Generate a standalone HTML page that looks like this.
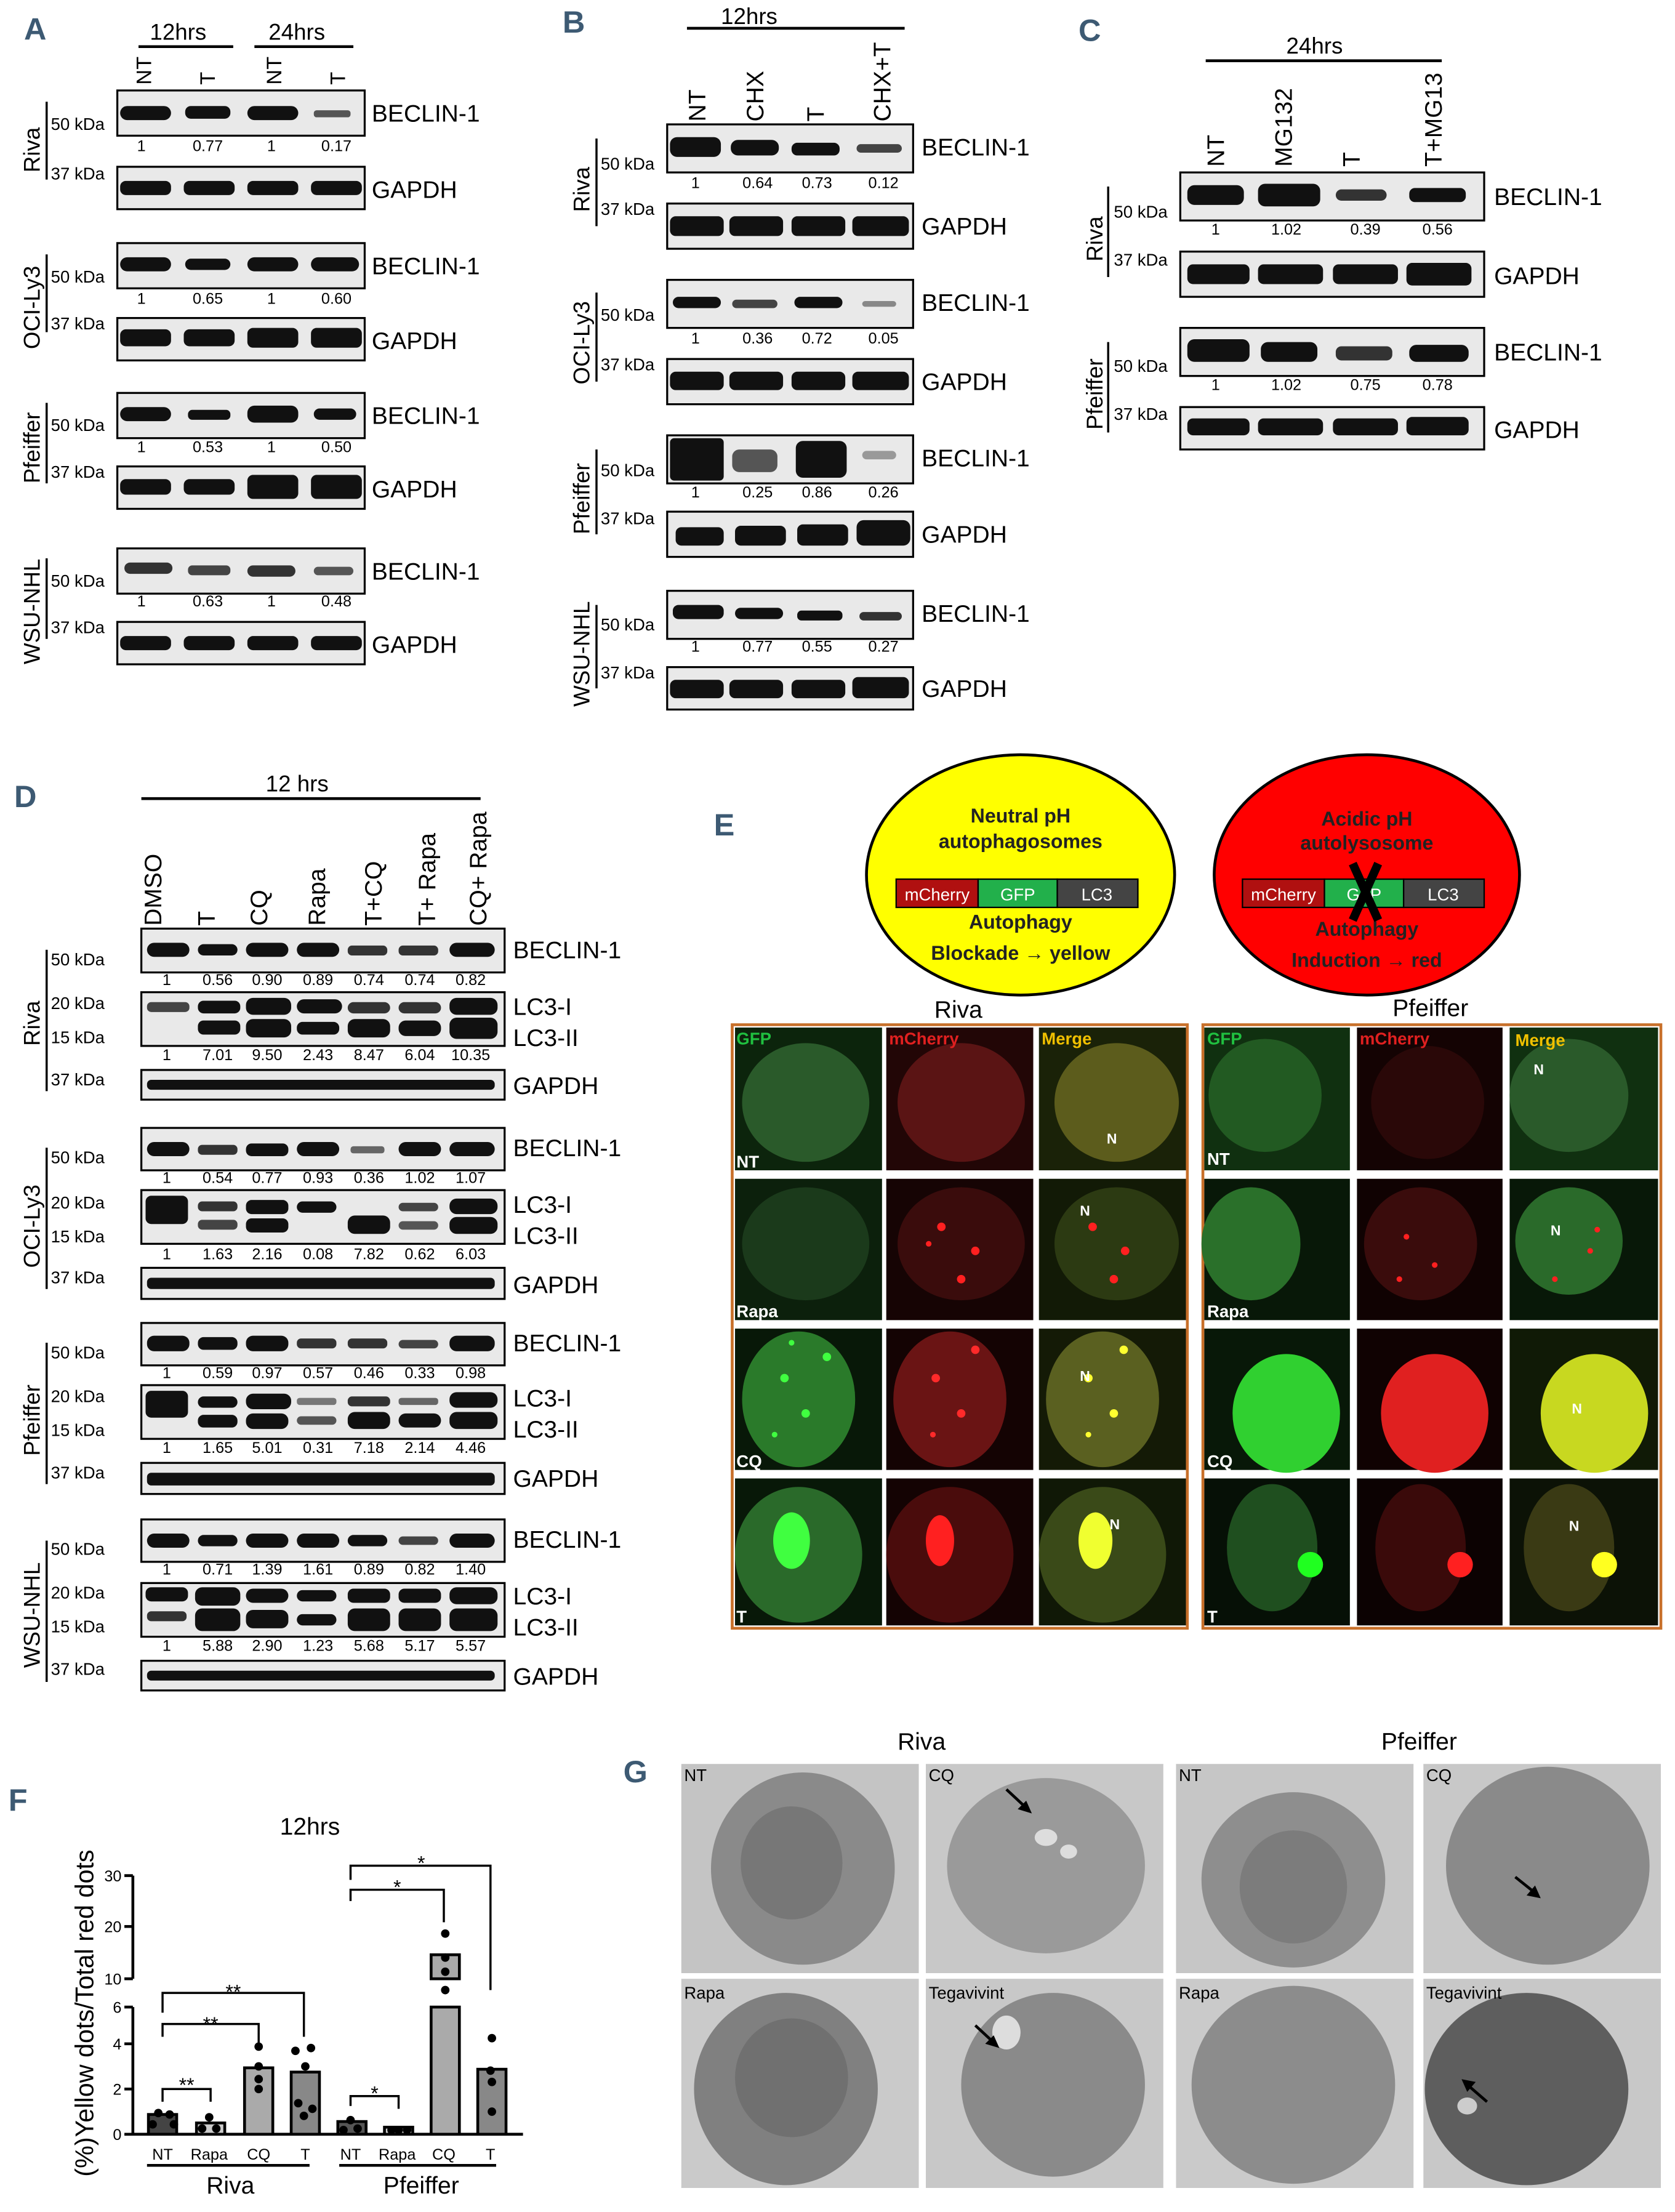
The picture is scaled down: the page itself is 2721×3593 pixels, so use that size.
<!DOCTYPE html>
<html><head><meta charset="utf-8"><style>html,body{margin:0;padding:0;background:#fff}svg{display:block}</style></head><body>
<svg xmlns="http://www.w3.org/2000/svg" width="2721" height="3593" viewBox="0 0 1185 1565" preserveAspectRatio="none" font-family="Liberation Sans, sans-serif">
<rect width="1185" height="1565" fill="#fff"/>
<g font-family="Liberation Sans, sans-serif" font-weight="bold" fill="#3d5a73" font-size="22">
<text x="17" y="28">A</text><text x="398" y="23">B</text><text x="763" y="29">C</text>
<text x="10" y="571">D</text><text x="505" y="591">E</text><text x="6" y="1281">F</text><text x="441" y="1261">G</text>
</g>

<!-- ===== Panel A ===== -->
<g font-size="16"><text x="106" y="28">12hrs</text><text x="190" y="28">24hrs</text></g>
<line x1="98" y1="33" x2="165" y2="33" stroke="#000" stroke-width="2"/><line x1="180" y1="33" x2="250" y2="33" stroke="#000" stroke-width="2"/>
<g font-size="15"><text transform="translate(107,60) rotate(-90)">NT</text><text transform="translate(152,60) rotate(-90)">T</text><text transform="translate(199,60) rotate(-90)">NT</text><text transform="translate(244,60) rotate(-90)">T</text></g>
<g fill="#e9e9e9" stroke="#000" stroke-width="1.4">
<rect x="83" y="64" width="175" height="32"/><rect x="83" y="118" width="175" height="30"/>
<rect x="83" y="172" width="175" height="32"/><rect x="83" y="225" width="175" height="30"/>
<rect x="83" y="278" width="175" height="32"/><rect x="83" y="330" width="175" height="30"/>
<rect x="83" y="388" width="175" height="32"/><rect x="83" y="440" width="175" height="30"/>
</g>
<g fill="#111">
<rect x="85" y="75" width="36" height="10" rx="5"/><rect x="131" y="75" width="32" height="9" rx="4"/><rect x="175" y="75" width="36" height="10" rx="5"/><rect x="222" y="78" width="26" height="5" rx="2" fill="#555"/>
<rect x="85" y="128" width="36" height="10" rx="4"/><rect x="130" y="128" width="36" height="10" rx="4"/><rect x="175" y="128" width="36" height="10" rx="4"/><rect x="220" y="128" width="36" height="10" rx="4"/>
<rect x="85" y="182" width="36" height="10" rx="5"/><rect x="131" y="183" width="32" height="8" rx="4"/><rect x="175" y="182" width="36" height="10" rx="5"/><rect x="220" y="182" width="34" height="10" rx="5"/>
<rect x="85" y="233" width="36" height="12" rx="4"/><rect x="130" y="233" width="36" height="12" rx="4"/><rect x="175" y="232" width="36" height="14" rx="4"/><rect x="220" y="232" width="36" height="14" rx="4"/>
<rect x="85" y="288" width="36" height="10" rx="5"/><rect x="133" y="290" width="30" height="7" rx="3"/><rect x="175" y="287" width="36" height="12" rx="5"/><rect x="222" y="289" width="30" height="8" rx="4"/>
<rect x="85" y="339" width="36" height="11" rx="4"/><rect x="130" y="339" width="36" height="11" rx="4"/><rect x="175" y="336" width="36" height="17" rx="4"/><rect x="220" y="336" width="36" height="17" rx="4"/>
<rect x="88" y="398" width="34" height="8" rx="4" fill="#333"/><rect x="133" y="400" width="30" height="7" rx="3" fill="#444"/><rect x="175" y="400" width="34" height="8" rx="4" fill="#333"/><rect x="222" y="401" width="28" height="6" rx="3" fill="#555"/>
<rect x="85" y="450" width="36" height="10" rx="4"/><rect x="130" y="450" width="36" height="10" rx="4"/><rect x="175" y="450" width="36" height="10" rx="4"/><rect x="220" y="450" width="36" height="10" rx="4"/>
</g>
<g font-size="17"><text x="263" y="86">BECLIN-1</text><text x="263" y="140">GAPDH</text><text x="263" y="194">BECLIN-1</text><text x="263" y="247">GAPDH</text><text x="263" y="300">BECLIN-1</text><text x="263" y="352">GAPDH</text><text x="263" y="410">BECLIN-1</text><text x="263" y="462">GAPDH</text></g>
<g font-size="11" text-anchor="middle"><text x="100" y="107">1</text><text x="147" y="107">0.77</text><text x="192" y="107">1</text><text x="238" y="107">0.17</text>
<text x="100" y="215">1</text><text x="147" y="215">0.65</text><text x="192" y="215">1</text><text x="238" y="215">0.60</text>
<text x="100" y="320">1</text><text x="147" y="320">0.53</text><text x="192" y="320">1</text><text x="238" y="320">0.50</text>
<text x="100" y="429">1</text><text x="147" y="429">0.63</text><text x="192" y="429">1</text><text x="238" y="429">0.48</text></g>
<g font-size="12"><text x="36" y="92">50 kDa</text><text x="36" y="127">37 kDa</text><text x="36" y="200">50 kDa</text><text x="36" y="233">37 kDa</text><text x="36" y="305">50 kDa</text><text x="36" y="338">37 kDa</text><text x="36" y="415">50 kDa</text><text x="36" y="448">37 kDa</text></g>
<g stroke="#000" stroke-width="1.5"><line x1="33" y1="72" x2="33" y2="127"/><line x1="33" y1="180" x2="33" y2="235"/><line x1="33" y1="285" x2="33" y2="342"/><line x1="33" y1="395" x2="33" y2="452"/></g>
<g font-size="16"><text transform="translate(28,122) rotate(-90)">Riva</text><text transform="translate(28,247) rotate(-90)">OCI-Ly3</text><text transform="translate(28,342) rotate(-90)">Pfeiffer</text><text transform="translate(28,470) rotate(-90)">WSU-NHL</text></g>

<!-- ===== Panel B ===== -->
<text x="510" y="17" font-size="16">12hrs</text><line x1="486" y1="20" x2="640" y2="20" stroke="#000" stroke-width="2"/>
<g font-size="17"><text transform="translate(499,86) rotate(-90)">NT</text><text transform="translate(540,86) rotate(-90)">CHX</text><text transform="translate(583,86) rotate(-90)">T</text><text transform="translate(630,86) rotate(-90)">CHX+T</text></g>
<g fill="#e9e9e9" stroke="#000" stroke-width="1.4">
<rect x="472" y="88" width="174" height="34"/><rect x="472" y="144" width="174" height="32"/>
<rect x="472" y="198" width="174" height="34"/><rect x="472" y="254" width="174" height="32"/>
<rect x="472" y="308" width="174" height="34"/><rect x="472" y="362" width="174" height="32"/>
<rect x="472" y="418" width="174" height="34"/><rect x="472" y="472" width="174" height="30"/>
</g>
<g fill="#111">
<rect x="474" y="97" width="36" height="14" rx="5"/><rect x="517" y="99" width="34" height="11" rx="5"/><rect x="560" y="101" width="34" height="9" rx="4"/><rect x="606" y="102" width="32" height="6" rx="3" fill="#444"/>
<rect x="474" y="153" width="38" height="14" rx="4"/><rect x="516" y="153" width="38" height="14" rx="4"/><rect x="560" y="153" width="38" height="14" rx="4"/><rect x="603" y="153" width="40" height="14" rx="4"/>
<rect x="476" y="210" width="34" height="8" rx="4"/><rect x="518" y="212" width="32" height="6" rx="3" fill="#444"/><rect x="562" y="210" width="34" height="8" rx="4"/><rect x="610" y="213" width="24" height="4" rx="2" fill="#888"/>
<rect x="474" y="263" width="38" height="13" rx="4"/><rect x="516" y="263" width="38" height="13" rx="4"/><rect x="560" y="263" width="38" height="13" rx="4"/><rect x="603" y="263" width="40" height="13" rx="4"/>
<rect x="474" y="310" width="38" height="30" rx="3"/><rect x="518" y="318" width="32" height="16" rx="5" fill="#555"/><rect x="563" y="312" width="36" height="26" rx="5"/><rect x="610" y="319" width="24" height="6" rx="3" fill="#999"/>
<rect x="478" y="373" width="34" height="13" rx="4"/><rect x="520" y="372" width="36" height="14" rx="4"/><rect x="564" y="371" width="36" height="15" rx="4"/><rect x="606" y="368" width="38" height="18" rx="5"/>
<rect x="476" y="428" width="36" height="10" rx="4"/><rect x="520" y="430" width="34" height="8" rx="4"/><rect x="564" y="432" width="32" height="7" rx="3"/><rect x="608" y="433" width="30" height="6" rx="3" fill="#333"/>
<rect x="474" y="481" width="38" height="13" rx="4"/><rect x="516" y="481" width="38" height="13" rx="4"/><rect x="560" y="481" width="38" height="13" rx="4"/><rect x="603" y="479" width="40" height="15" rx="4"/>
</g>
<g font-size="17"><text x="652" y="110">BECLIN-1</text><text x="652" y="166">GAPDH</text><text x="652" y="220">BECLIN-1</text><text x="652" y="276">GAPDH</text><text x="652" y="330">BECLIN-1</text><text x="652" y="384">GAPDH</text><text x="652" y="440">BECLIN-1</text><text x="652" y="493">GAPDH</text></g>
<g font-size="11" text-anchor="middle"><text x="492" y="133">1</text><text x="536" y="133">0.64</text><text x="578" y="133">0.73</text><text x="625" y="133">0.12</text>
<text x="492" y="243">1</text><text x="536" y="243">0.36</text><text x="578" y="243">0.72</text><text x="625" y="243">0.05</text>
<text x="492" y="352">1</text><text x="536" y="352">0.25</text><text x="578" y="352">0.86</text><text x="625" y="352">0.26</text>
<text x="492" y="461">1</text><text x="536" y="461">0.77</text><text x="578" y="461">0.55</text><text x="625" y="461">0.27</text></g>
<g font-size="12"><text x="425" y="120">50 kDa</text><text x="425" y="152">37 kDa</text><text x="425" y="227">50 kDa</text><text x="425" y="262">37 kDa</text><text x="425" y="337">50 kDa</text><text x="425" y="371">37 kDa</text><text x="425" y="446">50 kDa</text><text x="425" y="480">37 kDa</text></g>
<g stroke="#000" stroke-width="1.5"><line x1="422" y1="98" x2="422" y2="160"/><line x1="422" y1="207" x2="422" y2="270"/><line x1="422" y1="318" x2="422" y2="378"/><line x1="422" y1="428" x2="422" y2="487"/></g>
<g font-size="16"><text transform="translate(417,150) rotate(-90)">Riva</text><text transform="translate(417,272) rotate(-90)">OCI-Ly3</text><text transform="translate(417,378) rotate(-90)">Pfeiffer</text><text transform="translate(417,500) rotate(-90)">WSU-NHL</text></g>

<!-- ===== Panel C ===== -->
<text x="910" y="38" font-size="16">24hrs</text><line x1="853" y1="43" x2="1020" y2="43" stroke="#000" stroke-width="2"/>
<g font-size="17"><text transform="translate(866,118) rotate(-90)">NT</text><text transform="translate(914,118) rotate(-90)">MG132</text><text transform="translate(962,118) rotate(-90)">T</text><text transform="translate(1020,118) rotate(-90)">T+MG13</text></g>
<g fill="#e9e9e9" stroke="#000" stroke-width="1.4">
<rect x="835" y="122" width="215" height="34"/><rect x="835" y="178" width="215" height="32"/>
<rect x="835" y="232" width="215" height="34"/><rect x="835" y="288" width="215" height="30"/>
</g>
<g fill="#111">
<rect x="840" y="131" width="40" height="14" rx="5"/><rect x="890" y="130" width="44" height="16" rx="5"/><rect x="945" y="134" width="36" height="8" rx="4" fill="#333"/><rect x="997" y="133" width="40" height="10" rx="4"/>
<rect x="840" y="187" width="44" height="14" rx="4"/><rect x="890" y="187" width="46" height="14" rx="4"/><rect x="943" y="187" width="46" height="14" rx="4"/><rect x="995" y="186" width="46" height="16" rx="4"/>
<rect x="840" y="240" width="44" height="16" rx="5"/><rect x="892" y="242" width="40" height="14" rx="5"/><rect x="945" y="245" width="40" height="10" rx="4" fill="#333"/><rect x="997" y="244" width="42" height="12" rx="5"/>
<rect x="840" y="296" width="44" height="12" rx="4"/><rect x="890" y="296" width="46" height="12" rx="4"/><rect x="943" y="296" width="46" height="12" rx="4"/><rect x="995" y="295" width="44" height="13" rx="4"/>
</g>
<g font-size="17"><text x="1057" y="145">BECLIN-1</text><text x="1057" y="201">GAPDH</text><text x="1057" y="255">BECLIN-1</text><text x="1057" y="310">GAPDH</text></g>
<g font-size="11" text-anchor="middle"><text x="860" y="166">1</text><text x="910" y="166">1.02</text><text x="966" y="166">0.39</text><text x="1017" y="166">0.56</text>
<text x="860" y="276">1</text><text x="910" y="276">1.02</text><text x="966" y="276">0.75</text><text x="1017" y="276">0.78</text></g>
<g font-size="12"><text x="788" y="154">50 kDa</text><text x="788" y="188">37 kDa</text><text x="788" y="263">50 kDa</text><text x="788" y="297">37 kDa</text></g>
<g stroke="#000" stroke-width="1.5"><line x1="784" y1="132" x2="784" y2="196"/><line x1="784" y1="242" x2="784" y2="306"/></g>
<g font-size="16"><text transform="translate(780,185) rotate(-90)">Riva</text><text transform="translate(780,304) rotate(-90)">Pfeiffer</text></g>

<!-- ===== Panel D ===== -->
<text x="188" y="560" font-size="16">12 hrs</text><line x1="100" y1="565" x2="340" y2="565" stroke="#000" stroke-width="2"/>
<g font-size="17"><text transform="translate(114,655) rotate(-90)">DMSO</text><text transform="translate(152,655) rotate(-90)">T</text><text transform="translate(189,655) rotate(-90)">CQ</text><text transform="translate(230,655) rotate(-90)">Rapa</text><text transform="translate(270,655) rotate(-90)">T+CQ</text><text transform="translate(308,655) rotate(-90)">T+ Rapa</text><text transform="translate(344,655) rotate(-90)">CQ+ Rapa</text></g>
<g fill="#e9e9e9" stroke="#000" stroke-width="1.4">
<rect x="100" y="657" width="257" height="31"/><rect x="100" y="702" width="257" height="38"/><rect x="100" y="757" width="257" height="21"/>
<rect x="100" y="798" width="257" height="30"/><rect x="100" y="842" width="257" height="38"/><rect x="100" y="897" width="257" height="22"/>
<rect x="100" y="936" width="257" height="30"/><rect x="100" y="980" width="257" height="38"/><rect x="100" y="1035" width="257" height="22"/>
<rect x="100" y="1075" width="257" height="30"/><rect x="100" y="1120" width="257" height="38"/><rect x="100" y="1175" width="257" height="21"/>
</g>
<g fill="#111">
<rect x="104" y="667" width="30" height="10" rx="5"/><rect x="140" y="668" width="28" height="8" rx="4"/><rect x="174" y="667" width="30" height="10" rx="5"/><rect x="210" y="667" width="30" height="10" rx="5"/><rect x="246" y="669" width="28" height="7" rx="3" fill="#333"/><rect x="282" y="669" width="28" height="7" rx="3" fill="#333"/><rect x="318" y="667" width="32" height="10" rx="5"/>
<rect x="104" y="709" width="30" height="7" rx="3" fill="#444"/><rect x="140" y="708" width="30" height="9" rx="4"/><rect x="174" y="706" width="32" height="12" rx="5"/><rect x="210" y="707" width="32" height="10" rx="5"/><rect x="246" y="709" width="30" height="8" rx="4" fill="#333"/><rect x="282" y="709" width="30" height="8" rx="4" fill="#333"/><rect x="318" y="706" width="34" height="12" rx="5"/>
<rect x="140" y="722" width="30" height="10" rx="4"/><rect x="174" y="721" width="32" height="13" rx="5"/><rect x="210" y="723" width="30" height="9" rx="4"/><rect x="246" y="721" width="30" height="13" rx="5"/><rect x="282" y="722" width="30" height="11" rx="5"/><rect x="318" y="720" width="34" height="15" rx="5"/>
<rect x="104" y="764" width="246" height="7" rx="3"/>
<rect x="104" y="808" width="30" height="10" rx="5"/><rect x="140" y="810" width="28" height="7" rx="3" fill="#333"/><rect x="174" y="809" width="30" height="9" rx="4"/><rect x="210" y="808" width="30" height="10" rx="5"/><rect x="248" y="811" width="24" height="5" rx="2" fill="#666"/><rect x="282" y="808" width="30" height="10" rx="5"/><rect x="318" y="808" width="32" height="10" rx="5"/>
<rect x="103" y="846" width="30" height="20" rx="4"/><rect x="140" y="850" width="28" height="7" rx="3" fill="#333"/><rect x="174" y="849" width="30" height="10" rx="4"/><rect x="210" y="850" width="28" height="8" rx="4"/><rect x="282" y="851" width="28" height="6" rx="3" fill="#444"/><rect x="318" y="848" width="34" height="11" rx="5"/>
<rect x="140" y="863" width="28" height="7" rx="3" fill="#444"/><rect x="174" y="862" width="30" height="10" rx="4"/><rect x="246" y="860" width="30" height="13" rx="5"/><rect x="282" y="864" width="28" height="6" rx="3" fill="#555"/><rect x="318" y="861" width="34" height="12" rx="5"/>
<rect x="104" y="904" width="246" height="8" rx="3"/>
<rect x="104" y="945" width="30" height="11" rx="5"/><rect x="140" y="946" width="28" height="9" rx="4"/><rect x="174" y="945" width="30" height="11" rx="5"/><rect x="210" y="947" width="28" height="7" rx="3" fill="#333"/><rect x="246" y="947" width="28" height="7" rx="3" fill="#333"/><rect x="282" y="948" width="28" height="6" rx="3" fill="#444"/><rect x="318" y="945" width="32" height="11" rx="5"/>
<rect x="103" y="984" width="30" height="19" rx="4"/><rect x="140" y="988" width="28" height="8" rx="4"/><rect x="174" y="986" width="32" height="11" rx="5"/><rect x="210" y="989" width="28" height="5" rx="2" fill="#777"/><rect x="246" y="988" width="30" height="7" rx="3" fill="#333"/><rect x="282" y="989" width="28" height="5" rx="2" fill="#666"/><rect x="318" y="985" width="34" height="11" rx="5"/>
<rect x="140" y="1001" width="28" height="9" rx="4"/><rect x="174" y="1000" width="30" height="11" rx="5"/><rect x="210" y="1002" width="28" height="6" rx="3" fill="#555"/><rect x="246" y="999" width="30" height="12" rx="5"/><rect x="282" y="1000" width="30" height="10" rx="5"/><rect x="318" y="999" width="34" height="12" rx="5"/>
<rect x="104" y="1042" width="246" height="9" rx="3"/>
<rect x="104" y="1085" width="30" height="10" rx="5"/><rect x="140" y="1086" width="28" height="8" rx="4"/><rect x="174" y="1085" width="30" height="10" rx="5"/><rect x="210" y="1085" width="30" height="10" rx="5"/><rect x="246" y="1086" width="28" height="8" rx="4"/><rect x="282" y="1087" width="28" height="6" rx="3" fill="#444"/><rect x="318" y="1085" width="32" height="10" rx="5"/>
<rect x="103" y="1123" width="30" height="10" rx="4"/><rect x="138" y="1123" width="32" height="13" rx="5"/><rect x="174" y="1124" width="30" height="10" rx="5"/><rect x="210" y="1125" width="28" height="8" rx="4"/><rect x="246" y="1124" width="30" height="10" rx="4"/><rect x="282" y="1124" width="30" height="10" rx="4"/><rect x="318" y="1123" width="34" height="12" rx="5"/>
<rect x="104" y="1140" width="28" height="7" rx="3" fill="#333"/><rect x="138" y="1138" width="32" height="16" rx="5"/><rect x="174" y="1139" width="30" height="13" rx="5"/><rect x="210" y="1142" width="28" height="8" rx="4"/><rect x="246" y="1138" width="30" height="16" rx="5"/><rect x="282" y="1138" width="30" height="16" rx="5"/><rect x="318" y="1138" width="34" height="16" rx="5"/>
<rect x="104" y="1182" width="246" height="7" rx="3"/>
</g>
<g font-size="17"><text x="363" y="678">BECLIN-1</text><text x="363" y="718">LC3-I</text><text x="363" y="740">LC3-II</text><text x="363" y="774">GAPDH</text>
<text x="363" y="818">BECLIN-1</text><text x="363" y="858">LC3-I</text><text x="363" y="880">LC3-II</text><text x="363" y="915">GAPDH</text>
<text x="363" y="956">BECLIN-1</text><text x="363" y="995">LC3-I</text><text x="363" y="1017">LC3-II</text><text x="363" y="1052">GAPDH</text>
<text x="363" y="1095">BECLIN-1</text><text x="363" y="1135">LC3-I</text><text x="363" y="1157">LC3-II</text><text x="363" y="1192">GAPDH</text></g>
<g font-size="11" text-anchor="middle">
<text x="118" y="697">1</text><text x="154" y="697">0.56</text><text x="189" y="697">0.90</text><text x="225" y="697">0.89</text><text x="261" y="697">0.74</text><text x="297" y="697">0.74</text><text x="333" y="697">0.82</text>
<text x="118" y="750">1</text><text x="154" y="750">7.01</text><text x="189" y="750">9.50</text><text x="225" y="750">2.43</text><text x="261" y="750">8.47</text><text x="297" y="750">6.04</text><text x="333" y="750">10.35</text>
<text x="118" y="837">1</text><text x="154" y="837">0.54</text><text x="189" y="837">0.77</text><text x="225" y="837">0.93</text><text x="261" y="837">0.36</text><text x="297" y="837">1.02</text><text x="333" y="837">1.07</text>
<text x="118" y="891">1</text><text x="154" y="891">1.63</text><text x="189" y="891">2.16</text><text x="225" y="891">0.08</text><text x="261" y="891">7.82</text><text x="297" y="891">0.62</text><text x="333" y="891">6.03</text>
<text x="118" y="975">1</text><text x="154" y="975">0.59</text><text x="189" y="975">0.97</text><text x="225" y="975">0.57</text><text x="261" y="975">0.46</text><text x="297" y="975">0.33</text><text x="333" y="975">0.98</text>
<text x="118" y="1028">1</text><text x="154" y="1028">1.65</text><text x="189" y="1028">5.01</text><text x="225" y="1028">0.31</text><text x="261" y="1028">7.18</text><text x="297" y="1028">2.14</text><text x="333" y="1028">4.46</text>
<text x="118" y="1114">1</text><text x="154" y="1114">0.71</text><text x="189" y="1114">1.39</text><text x="225" y="1114">1.61</text><text x="261" y="1114">0.89</text><text x="297" y="1114">0.82</text><text x="333" y="1114">1.40</text>
<text x="118" y="1168">1</text><text x="154" y="1168">5.88</text><text x="189" y="1168">2.90</text><text x="225" y="1168">1.23</text><text x="261" y="1168">5.68</text><text x="297" y="1168">5.17</text><text x="333" y="1168">5.57</text>
</g>
<g font-size="12"><text x="36" y="683">50 kDa</text><text x="36" y="714">20 kDa</text><text x="36" y="738">15 kDa</text><text x="36" y="768">37 kDa</text>
<text x="36" y="823">50 kDa</text><text x="36" y="855">20 kDa</text><text x="36" y="879">15 kDa</text><text x="36" y="908">37 kDa</text>
<text x="36" y="961">50 kDa</text><text x="36" y="992">20 kDa</text><text x="36" y="1016">15 kDa</text><text x="36" y="1046">37 kDa</text>
<text x="36" y="1100">50 kDa</text><text x="36" y="1131">20 kDa</text><text x="36" y="1155">15 kDa</text><text x="36" y="1185">37 kDa</text></g>
<g stroke="#000" stroke-width="1.5"><line x1="33" y1="672" x2="33" y2="772"/><line x1="33" y1="812" x2="33" y2="912"/><line x1="33" y1="950" x2="33" y2="1050"/><line x1="33" y1="1090" x2="33" y2="1190"/></g>
<g font-size="16"><text transform="translate(28,740) rotate(-90)">Riva</text><text transform="translate(28,897) rotate(-90)">OCI-Ly3</text><text transform="translate(28,1030) rotate(-90)">Pfeiffer</text><text transform="translate(28,1180) rotate(-90)">WSU-NHL</text></g>

<!-- ===== Panel E ===== -->
<ellipse cx="722" cy="619" rx="109" ry="85" fill="#ffff00" stroke="#000" stroke-width="2"/>
<ellipse cx="967" cy="619" rx="108" ry="85" fill="#ff0000" stroke="#000" stroke-width="2"/>
<g font-family="Liberation Sans, sans-serif" font-weight="bold" font-size="14" text-anchor="middle" fill="#222">
<text x="722" y="582">Neutral pH</text><text x="722" y="600">autophagosomes</text><text x="722" y="657">Autophagy</text><text x="722" y="679">Blockade → yellow</text>
<text x="967" y="584">Acidic pH</text><text x="967" y="601">autolysosome</text><text x="967" y="662">Autophagy</text><text x="967" y="684">Induction → red</text></g>
<g stroke="#000" stroke-width="1"><rect x="634" y="622" width="58" height="20" fill="#b01010"/><rect x="692" y="622" width="56" height="20" fill="#22b04b"/><rect x="748" y="622" width="57" height="20" fill="#444"/>
<rect x="879" y="622" width="58" height="20" fill="#b01010"/><rect x="937" y="622" width="56" height="20" fill="#22b04b"/><rect x="993" y="622" width="57" height="20" fill="#444"/></g>
<g font-size="12" fill="#fff" text-anchor="middle"><text x="663" y="637">mCherry</text><text x="720" y="637">GFP</text><text x="776" y="637">LC3</text><text x="908" y="637">mCherry</text><text x="965" y="637">GFP</text><text x="1021" y="637">LC3</text></g>
<g stroke="#000" stroke-width="6"><line x1="957" y1="611" x2="975" y2="651"/><line x1="975" y1="611" x2="957" y2="651"/></g>
<g font-size="17" text-anchor="middle"><text x="678" y="720">Riva</text><text x="1012" y="719">Pfeiffer</text></g>
<rect x="518" y="725" width="322" height="427" fill="#fff" stroke="#c8702a" stroke-width="2"/>
<rect x="851" y="725" width="324" height="427" fill="#fff" stroke="#c8702a" stroke-width="2"/>
<g>
<rect x="520" y="727" width="104" height="101" fill="#0c240c"/><ellipse cx="570" cy="780" rx="45" ry="42" fill="#2a5a2a"/>
<rect x="627" y="727" width="104" height="101" fill="#220606"/><ellipse cx="680" cy="780" rx="45" ry="42" fill="#5a1414"/>
<rect x="735" y="727" width="104" height="101" fill="#1a2208"/><ellipse cx="790" cy="780" rx="44" ry="42" fill="#5c5c1c"/>
<rect x="520" y="834" width="104" height="100" fill="#0c200c"/><ellipse cx="570" cy="880" rx="45" ry="40" fill="#1b3a1b"/>
<rect x="627" y="834" width="104" height="100" fill="#160404"/><ellipse cx="680" cy="880" rx="45" ry="40" fill="#3a0c0c"/><g fill="#ff2020"><circle cx="666" cy="868" r="3"/><circle cx="690" cy="885" r="3"/><circle cx="680" cy="905" r="3"/><circle cx="657" cy="880" r="2"/></g>
<rect x="735" y="834" width="104" height="100" fill="#121a06"/><ellipse cx="790" cy="880" rx="44" ry="40" fill="#2c3a12"/><g fill="#ff2020"><circle cx="773" cy="868" r="3"/><circle cx="796" cy="885" r="3"/><circle cx="788" cy="905" r="3"/></g>
<rect x="520" y="940" width="104" height="100" fill="#081808"/><ellipse cx="565" cy="990" rx="40" ry="48" fill="#2a7a2a"/><g fill="#40ff40"><circle cx="555" cy="975" r="3"/><circle cx="570" cy="1000" r="3"/><circle cx="548" cy="1015" r="2"/><circle cx="585" cy="960" r="3"/><circle cx="560" cy="950" r="2"/></g>
<rect x="627" y="940" width="104" height="100" fill="#140303"/><ellipse cx="672" cy="990" rx="40" ry="48" fill="#6a1414"/><g fill="#ff2a2a"><circle cx="662" cy="975" r="3"/><circle cx="680" cy="1000" r="3"/><circle cx="690" cy="955" r="3"/><circle cx="660" cy="1015" r="2"/></g>
<rect x="735" y="940" width="104" height="100" fill="#141a06"/><ellipse cx="780" cy="990" rx="40" ry="48" fill="#5a6020"/><g fill="#ffff30"><circle cx="770" cy="975" r="3"/><circle cx="788" cy="1000" r="3"/><circle cx="795" cy="955" r="3"/><circle cx="770" cy="1015" r="2"/></g>
<rect x="520" y="1046" width="104" height="104" fill="#081808"/><ellipse cx="565" cy="1100" rx="45" ry="48" fill="#2a6a2a"/><ellipse cx="560" cy="1090" rx="13" ry="20" fill="#40ff40"/>
<rect x="627" y="1046" width="104" height="104" fill="#140303"/><ellipse cx="672" cy="1100" rx="45" ry="48" fill="#4a0c0c"/><ellipse cx="665" cy="1090" rx="10" ry="18" fill="#ff2020"/>
<rect x="735" y="1046" width="104" height="104" fill="#101806"/><ellipse cx="780" cy="1100" rx="45" ry="48" fill="#3a4a18"/><ellipse cx="775" cy="1090" rx="12" ry="20" fill="#f0ff30"/>
</g>
<g>
<rect x="852" y="727" width="103" height="101" fill="#103010"/><ellipse cx="895" cy="775" rx="40" ry="40" fill="#225a22"/>
<rect x="960" y="727" width="103" height="101" fill="#140303"/><ellipse cx="1010" cy="780" rx="40" ry="40" fill="#2a0808"/>
<rect x="1068" y="727" width="105" height="101" fill="#103010"/><ellipse cx="1110" cy="775" rx="42" ry="40" fill="#2a5a2a"/>
<rect x="852" y="834" width="103" height="100" fill="#081808"/><ellipse cx="885" cy="880" rx="35" ry="40" fill="#2a702a"/>
<rect x="960" y="834" width="103" height="100" fill="#100202"/><ellipse cx="1005" cy="880" rx="40" ry="40" fill="#3a0c0c"/><g fill="#ff2020"><circle cx="995" cy="875" r="2"/><circle cx="1015" cy="895" r="2"/><circle cx="990" cy="905" r="2"/></g>
<rect x="1068" y="834" width="105" height="100" fill="#081808"/><ellipse cx="1110" cy="878" rx="38" ry="38" fill="#2a6a2a"/><g fill="#ff2020"><circle cx="1125" cy="885" r="2"/><circle cx="1100" cy="905" r="2"/><circle cx="1130" cy="870" r="2"/></g>
<rect x="852" y="940" width="103" height="100" fill="#081808"/><ellipse cx="910" cy="1000" rx="38" ry="42" fill="#30d030"/>
<rect x="960" y="940" width="103" height="100" fill="#100202"/><ellipse cx="1015" cy="1000" rx="38" ry="42" fill="#e02020"/>
<rect x="1068" y="940" width="105" height="100" fill="#101a06"/><ellipse cx="1128" cy="1000" rx="38" ry="42" fill="#c8d820"/>
<rect x="852" y="1046" width="103" height="104" fill="#061006"/><ellipse cx="900" cy="1095" rx="32" ry="45" fill="#1f4f1f"/><ellipse cx="927" cy="1107" rx="9" ry="9" fill="#20ff20"/>
<rect x="960" y="1046" width="103" height="104" fill="#0c0202"/><ellipse cx="1005" cy="1095" rx="32" ry="45" fill="#3a0a0a"/><ellipse cx="1033" cy="1107" rx="9" ry="9" fill="#ff2020"/>
<rect x="1068" y="1046" width="105" height="104" fill="#0c1206"/><ellipse cx="1110" cy="1095" rx="32" ry="45" fill="#3a3a14"/><ellipse cx="1135" cy="1107" rx="9" ry="9" fill="#ffff20"/>
</g>
<g font-family="Liberation Sans, sans-serif" font-weight="bold" font-size="12">
<text x="521" y="739" fill="#20c040">GFP</text><text x="629" y="739" fill="#e02020">mCherry</text><text x="737" y="739" fill="#f0c000">Merge</text>
<text x="854" y="739" fill="#20c040">GFP</text><text x="962" y="739" fill="#e02020">mCherry</text><text x="1072" y="740" fill="#f0c000">Merge</text>
<g fill="#fff"><text x="521" y="826">NT</text><text x="521" y="932">Rapa</text><text x="521" y="1038">CQ</text><text x="521" y="1148">T</text>
<text x="854" y="824">NT</text><text x="854" y="932">Rapa</text><text x="854" y="1038">CQ</text><text x="854" y="1148">T</text>
<g font-size="10"><text x="783" y="809">N</text><text x="764" y="860">N</text><text x="764" y="977">N</text><text x="785" y="1082">N</text><text x="1085" y="760">N</text><text x="1097" y="874">N</text><text x="1112" y="1000">N</text><text x="1110" y="1083">N</text></g></g>
</g>

<!-- ===== Panel F ===== -->
<text x="198" y="1298" font-size="17">12hrs</text>
<text transform="translate(66,1540) rotate(-90)" font-size="18">(%)Yellow dots/Total red dots</text>
<g stroke="#000" stroke-width="2" fill="none">
<polyline points="94,1327 94,1400"/><polyline points="94,1420 94,1510 370,1510"/>
<line x1="88" y1="1327" x2="94" y2="1327"/><line x1="88" y1="1363" x2="94" y2="1363"/><line x1="88" y1="1400" x2="94" y2="1400"/>
<line x1="88" y1="1420" x2="94" y2="1420"/><line x1="88" y1="1446" x2="94" y2="1446"/><line x1="88" y1="1478" x2="94" y2="1478"/><line x1="88" y1="1510" x2="94" y2="1510"/>
<line x1="104" y1="1532" x2="219" y2="1532"/><line x1="240" y1="1532" x2="351" y2="1532"/>
</g>
<g font-size="11" text-anchor="end"><text x="86" y="1331">30</text><text x="86" y="1367">20</text><text x="86" y="1404">10</text><text x="86" y="1424">6</text><text x="86" y="1450">4</text><text x="86" y="1482">2</text><text x="86" y="1514">0</text></g>
<g stroke="#000" stroke-width="2">
<rect x="105" y="1496" width="20" height="14" fill="#444"/><rect x="139" y="1502" width="20" height="8" fill="#ccc"/><rect x="173" y="1463" width="20" height="47" fill="#aaa"/><rect x="206" y="1466" width="20" height="44" fill="#888"/>
<rect x="239" y="1501" width="20" height="9" fill="#555"/><rect x="272" y="1505" width="20" height="5" fill="#ccc"/><rect x="305" y="1420" width="20" height="90" fill="#aaa"/><rect x="305" y="1383" width="20" height="17" fill="#aaa"/><rect x="338" y="1464" width="20" height="46" fill="#888"/>
</g>
<g fill="#000"><circle cx="112" cy="1495" r="3"/><circle cx="120" cy="1496" r="3"/><circle cx="108" cy="1503" r="3"/><circle cx="123" cy="1503" r="3"/>
<circle cx="148" cy="1498" r="3"/><circle cx="143" cy="1506" r="3"/><circle cx="153" cy="1506" r="3"/>
<circle cx="183" cy="1448" r="3"/><circle cx="183" cy="1462" r="3"/><circle cx="183" cy="1471" r="3"/><circle cx="183" cy="1478" r="3"/>
<circle cx="209" cy="1451" r="3"/><circle cx="220" cy="1449" r="3"/><circle cx="216" cy="1462" r="3"/><circle cx="211" cy="1488" r="3"/><circle cx="221" cy="1492" r="3"/><circle cx="215" cy="1497" r="3"/>
<circle cx="248" cy="1500" r="3"/><circle cx="243" cy="1507" r="3"/><circle cx="253" cy="1506" r="3"/>
<circle cx="282" cy="1507" r="3"/><circle cx="277" cy="1507" r="3"/><circle cx="288" cy="1507" r="3"/>
<circle cx="315" cy="1368" r="3"/><circle cx="315" cy="1385" r="3"/><circle cx="315" cy="1395" r="3"/><circle cx="315" cy="1408" r="3"/>
<circle cx="348" cy="1442" r="3"/><circle cx="347" cy="1465" r="3"/><circle cx="348" cy="1473" r="3"/><circle cx="348" cy="1494" r="3"/></g>
<g stroke="#000" stroke-width="1.5" fill="none">
<polyline points="115,1487 115,1478 149,1478 149,1487"/><polyline points="115,1441 115,1432 183,1432 183,1448"/><polyline points="115,1424 115,1410 215,1410 215,1441"/>
<polyline points="248,1490 248,1483 282,1483 282,1492"/><polyline points="248,1345 248,1337 314,1337 314,1360"/><polyline points="248,1330 248,1320 347,1320 347,1408"/>
</g>
<g font-size="14" text-anchor="middle"><text x="132" y="1480">**</text><text x="149" y="1437">**</text><text x="165" y="1414">**</text><text x="265" y="1486">*</text><text x="281" y="1340">*</text><text x="298" y="1323">*</text></g>
<g font-size="11" text-anchor="middle"><text x="115" y="1528">NT</text><text x="148" y="1528">Rapa</text><text x="183" y="1528">CQ</text><text x="216" y="1528">T</text><text x="248" y="1528">NT</text><text x="281" y="1528">Rapa</text><text x="314" y="1528">CQ</text><text x="347" y="1528">T</text></g>
<g font-size="17" text-anchor="middle"><text x="163" y="1552">Riva</text><text x="298" y="1552">Pfeiffer</text></g>

<!-- ===== Panel G ===== -->
<g font-size="17" text-anchor="middle"><text x="652" y="1238">Riva</text><text x="1004" y="1238">Pfeiffer</text></g>
<g>
<rect x="482" y="1248" width="168" height="148" fill="#c4c4c4"/><ellipse cx="568" cy="1322" rx="65" ry="68" fill="#8a8a8a"/><ellipse cx="560" cy="1318" rx="36" ry="40" fill="#777"/>
<rect x="655" y="1248" width="168" height="148" fill="#c8c8c8"/><ellipse cx="740" cy="1320" rx="70" ry="62" fill="#9a9a9a"/><ellipse cx="740" cy="1300" rx="8" ry="6" fill="#ddd"/><ellipse cx="756" cy="1310" rx="6" ry="5" fill="#ddd"/>
<rect x="832" y="1248" width="168" height="148" fill="#c6c6c6"/><ellipse cx="915" cy="1330" rx="65" ry="62" fill="#8e8e8e"/><ellipse cx="915" cy="1335" rx="38" ry="40" fill="#7c7c7c"/>
<rect x="1007" y="1248" width="168" height="148" fill="#c8c8c8"/><ellipse cx="1095" cy="1320" rx="72" ry="70" fill="#8a8a8a"/>
<rect x="482" y="1400" width="168" height="148" fill="#cacaca"/><ellipse cx="556" cy="1478" rx="65" ry="68" fill="#808080"/><ellipse cx="560" cy="1470" rx="40" ry="42" fill="#707070"/>
<rect x="655" y="1400" width="168" height="148" fill="#c8c8c8"/><ellipse cx="745" cy="1475" rx="65" ry="65" fill="#8a8a8a"/><ellipse cx="712" cy="1438" rx="10" ry="12" fill="#ddd"/>
<rect x="832" y="1400" width="168" height="148" fill="#cacaca"/><ellipse cx="915" cy="1475" rx="72" ry="70" fill="#8c8c8c"/>
<rect x="1007" y="1400" width="168" height="148" fill="#c8c8c8"/><ellipse cx="1080" cy="1478" rx="72" ry="68" fill="#5e5e5e"/><ellipse cx="1038" cy="1490" rx="7" ry="6" fill="#ccc"/>
</g>
<g stroke="#000" stroke-width="2"><line x1="712" y1="1266" x2="727" y2="1280"/><line x1="1072" y1="1328" x2="1087" y2="1340"/><line x1="690" y1="1433" x2="704" y2="1446"/><line x1="1037" y1="1474" x2="1052" y2="1487"/></g>
<g fill="#000"><polygon points="730,1283 720,1280 726,1274"/><polygon points="1090,1343 1080,1341 1086,1334"/><polygon points="707,1449 697,1446 703,1440"/><polygon points="1034,1471 1044,1473 1038,1480"/></g>
<g font-size="12"><text x="484" y="1260">NT</text><text x="657" y="1260">CQ</text><text x="834" y="1260">NT</text><text x="1009" y="1260">CQ</text>
<text x="484" y="1414">Rapa</text><text x="657" y="1414">Tegavivint</text><text x="834" y="1414">Rapa</text><text x="1009" y="1414">Tegavivint</text></g>
</svg>
</body></html>
